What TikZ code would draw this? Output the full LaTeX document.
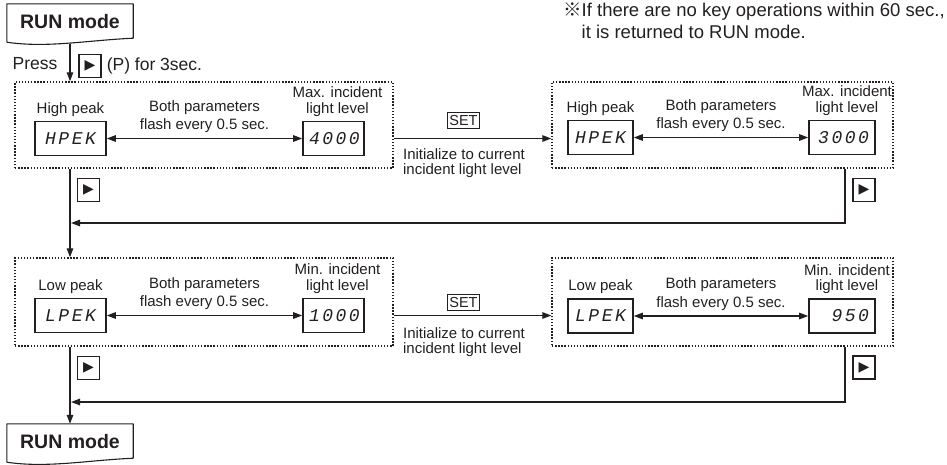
\documentclass[tikz,border=0pt]{standalone}
\usepackage{fontspec}
\setmainfont{Liberation Sans}
\newfontfamily\segfont[LetterSpace=14]{Liberation Mono}
\newfontfamily\keyfont{DejaVu Sans}
\newfontfamily\cjkfont{Noto Sans CJK JP}
\usepackage{tikz}
\usetikzlibrary{
  arrows.meta,
  positioning,
  calc
}
\definecolor{linecolor}{RGB}{35, 31, 32}
\definecolor{labelcolor}{RGB}{35, 31, 32}
\tikzset{
blocktext/.style={
  align=center,
  inner sep=0pt,
  font=\fontsize{15}{15.5}\selectfont,
  text=labelcolor
},
flashlabel/.style={
  blocktext,
  font=\fontsize{15}{18.5}\selectfont
},
presstext/.style={
  blocktext,
  font=\fontsize{17.5}{18}\selectfont
},
notetext/.style={
  align=left,
  inner sep=0pt,
  font=\fontsize{18.5}{22}\selectfont,
  text=labelcolor
},
modeblock/.style={
  minimum width=126pt,
  minimum height=36pt,
  inner sep=0pt,
  font=\bfseries\fontsize{19.5}{20}\selectfont,
  text=labelcolor
},
modeline/.style={
  draw=linecolor,
  line width=1.1pt,
  line join=round
},
frameblock/.style={
  draw=linecolor,
  line width=1.4pt,
  dash pattern=on 1.4pt off 1.7pt
},
displayblock/.style={
  draw=linecolor,
  line width=1.6pt,
  minimum height=34pt,
  text width=#1,
  align=right,
  inner xsep=6pt,
  inner ysep=0pt,
  font=\segfont\itshape\fontsize{18}{18}\selectfont,
  text=labelcolor
},
displayblock/.default=49pt,
keyblock/.style={
  draw=linecolor,
  line width=1.1pt,
  minimum width=22pt,
  minimum height=23pt,
  inner sep=0pt,
  font=\keyfont\fontsize{14}{14}\selectfont,
  text=linecolor
},
setblock/.style={
  draw=linecolor,
  line width=0.8pt,
  inner xsep=2pt,
  minimum height=16pt,
  inner ysep=0pt,
  font=\fontsize{14.5}{14.5}\selectfont,
  text=labelcolor
},
arrow/.style={
  -{Triangle[length=9pt,width=6.5pt]},
  line width=1.3pt,
  draw=linecolor
},
doublearrow/.style={
  arrow,
  {Triangle[length=9pt,width=6.5pt]}-{Triangle[length=9pt,width=6.5pt]}
}
}

\begin{document}
\begin{tikzpicture}[x=1pt,y=-1pt]
  \useasboundingbox (0,0) rectangle (947,464);

  % RUN mode boxes
  \node[modeblock] (runtop) at (70,22) {RUN mode};
  \node[modeblock] (runbot) at (70,442) {RUN mode};
  \foreach \m in {runtop,runbot}{
    \draw[modeline] ($(\m.south west)+(0,2)$) -- (\m.north west) -- (\m.north east)
      -- ($(\m.south east)+(0,-2)$)
      .. controls ($(\m.south east)+(-45,0)$) and ($(\m.south west)+(40,8)$) .. ($(\m.south west)+(0,2)$);
  }

  % note
  \node[notetext, anchor=north west] (note) at (563,3)
    {{\cjkfont ※}If there are no key operations within 60 sec.,\\
     \phantom{\cjkfont ※}it is returned to RUN mode.};

  % frames
  \node[frameblock, minimum width=378pt, minimum height=86pt] (frameA) at (204,125) {};
  \node[frameblock, minimum width=341pt, minimum height=86pt] (frameB) at (722.5,125) {};
  \node[frameblock, minimum width=378pt, minimum height=88pt] (frameC) at (204,302) {};
  \node[frameblock, minimum width=341pt, minimum height=88pt] (frameD) at (722.5,302) {};

  % press
  \node[keyblock] (presskey) at (90,66) {▶};
  \node[presstext, right=5pt of presskey] (pfor) {(P) for 3sec.};
  \node[presstext] (press) at (35,64) {Press};
  \draw[arrow] ($(runtop.south)+(0,4)$) -- (runtop.south |- frameA.north);

  % high peak
  \node[displayblock=59pt, align=center] (highA) at (70.5,138.5) {HPEK};
  \node[displayblock] (maxA) at (333.5,138.5) {4000};
  \node[blocktext, above=4pt of highA] (hlabelA) {High peak};
  \node[blocktext, above=4pt of maxA, xshift=4pt] (maxlabelA) {Max. incident\\light level};
  \draw[doublearrow] (highA) -- node[flashlabel, above=5pt] (flashA) {Both parameters\\flash every 0.5 sec.} (maxA);

  \node[displayblock=53pt, align=center] (highB) at (600.5,137.5) {HPEK};
  \node[displayblock=54pt] (maxB) at (842,137.5) {3000};
  \node[blocktext, above=4pt of highB] (hlabelB) {High peak};
  \node[blocktext, above=4pt of maxB, xshift=5pt] (maxlabelB) {Max. incident\\light level};
  \draw[doublearrow] (highB) -- node[flashlabel, above=5pt] (flashB) {Both parameters\\flash every 0.5 sec.} (maxB);

  \draw[arrow] (maxA -| frameA.east) -- (maxA -| frameB.west);
  \node[setblock] (setA) at (463.5,120.5) {SET};
  \node[blocktext, align=left, anchor=north] (initA) at (464,148) {Initialize to current\\incident light level};

  % low peak
  \node[displayblock=59pt, align=center] (lowC) at (70.5,315.5) {LPEK};
  \node[displayblock] (minC) at (333.5,315.5) {1000};
  \node[blocktext, above=4pt of lowC] (llabelC) {Low peak};
  \node[blocktext, above=4pt of minC, xshift=4pt] (minlabelC) {Min. incident\\light level};
  \draw[doublearrow] (lowC) -- node[flashlabel, above=5pt] (flashC) {Both parameters\\flash every 0.5 sec.} (minC);

  \node[displayblock=53pt, align=center] (lowD) at (600.5,316) {LPEK};
  \node[displayblock=54pt] (minD) at (842,316) {950};
  \node[blocktext, above=4pt of lowD] (llabelD) {Low peak};
  \node[blocktext, above=4pt of minD, xshift=5pt] (minlabelD) {Min. incident\\light level};
  \draw[doublearrow] (lowD) -- node[flashlabel, above=5pt] (flashD) {Both parameters\\flash every 0.5 sec.} (minD);

  \draw[arrow] (minC -| frameC.east) -- (minC -| frameD.west);
  \node[setblock] (setC) at (463.5,302.5) {SET};
  \node[blocktext, align=left, anchor=north] (initC) at (464,327) {Initialize to current\\incident light level};

  % key paths
  \coordinate (colL) at (70,0);
  \coordinate (colR) at (845,0);
  \coordinate (backA) at (71,223);
  \coordinate (backC) at (71,402);
  \draw[arrow] (frameA.south -| colL) -- (frameC.north -| colL);
  \draw[arrow] (frameB.south -| colR) |- (backA);
  \draw[arrow] (frameC.south -| colL) -- (runbot.north);
  \draw[arrow] (frameD.south -| colR) |- (backC);
  \node[keyblock] (keyA) at (88.5,190) {▶};
  \node[keyblock] (keyB) at (864,190) {▶};
  \node[keyblock] (keyC) at (88.5,368) {▶};
  \node[keyblock] (keyD) at (864,367.5) {▶};
\end{tikzpicture}
\end{document}
